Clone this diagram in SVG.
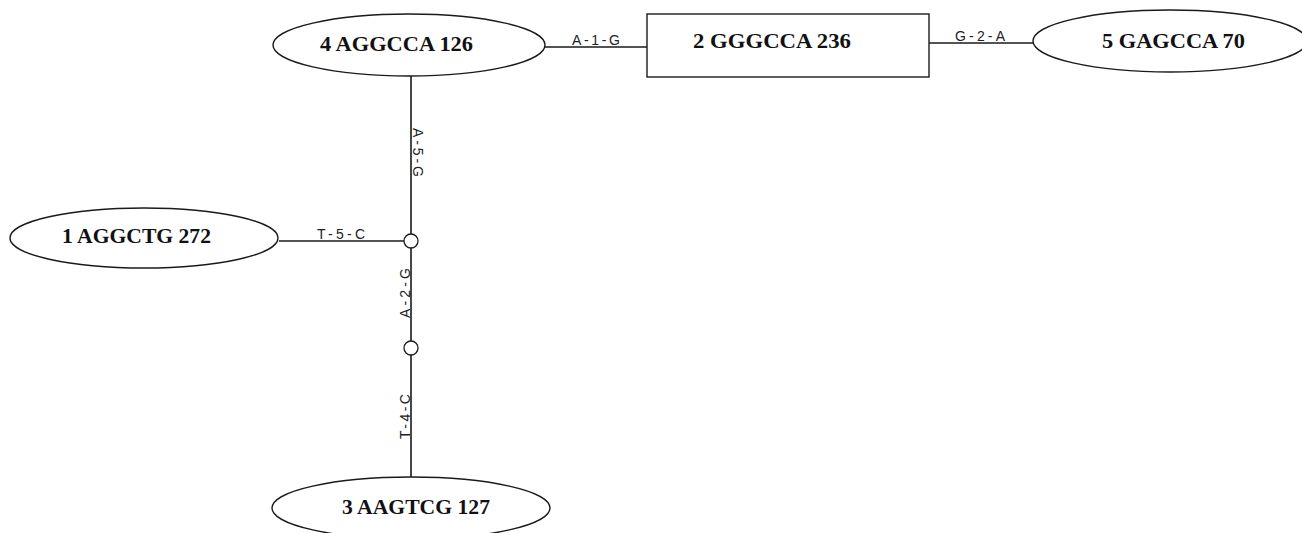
<svg xmlns="http://www.w3.org/2000/svg" width="1302" height="533" viewBox="0 0 1302 533">
<style>
.shape{fill:#fff;stroke:#1a1a1a;stroke-width:1.4}
.node{font-family:"Liberation Serif","Times New Roman",serif;font-weight:bold;font-size:21.5px;fill:#111}
.edge{stroke:#1a1a1a;stroke-width:1.6;fill:none}
.lbl{font-family:"Liberation Sans",Arial,sans-serif;font-size:14px;fill:#222}
.junc{fill:#fff;stroke:#1a1a1a;stroke-width:1.3}
</style>
<rect width="1302" height="533" fill="#fff"/>
<g id="connectors">
<line class="edge" x1="545" y1="47" x2="647" y2="47"/>
<line class="edge" x1="929" y1="43" x2="1033" y2="43"/>
<line class="edge" x1="279" y1="241" x2="404" y2="241"/>
<line class="edge" x1="411" y1="76" x2="411" y2="234"/>
<line class="edge" x1="411" y1="248" x2="411" y2="341"/>
<line class="edge" x1="411" y1="355" x2="411" y2="478"/>
<text class="lbl" x="572" y="45" textLength="48" lengthAdjust="spacing">A-1-G</text>
<text class="lbl" x="955" y="41" textLength="50" lengthAdjust="spacing">G-2-A</text>
<text class="lbl" x="317" y="239" textLength="48" lengthAdjust="spacing">T-5-C</text>
<text class="lbl" transform="translate(413,128) rotate(90)" textLength="49" lengthAdjust="spacing">A-5-G</text>
<text class="lbl" transform="translate(410,318) rotate(-90)" textLength="50" lengthAdjust="spacing">A-2-G</text>
<text class="lbl" transform="translate(410,439) rotate(-90)" textLength="45" lengthAdjust="spacing">T-4-C</text>
</g>
<g id="junction1"><circle class="junc" cx="411" cy="241" r="7"/></g>
<g id="junction2"><circle class="junc" cx="411" cy="348" r="7"/></g>
<g id="node4">
<ellipse class="shape" cx="409" cy="45" rx="136" ry="31"/>
<text class="node" x="320" y="51" textLength="153" lengthAdjust="spacingAndGlyphs">4 AGGCCA 126</text>
</g>
<g id="node2">
<rect class="shape" x="647" y="14" width="282" height="63"/>
<text class="node" x="693" y="48" textLength="158" lengthAdjust="spacingAndGlyphs">2 GGGCCA 236</text>
</g>
<g id="node5">
<ellipse class="shape" cx="1170" cy="41" rx="137" ry="31"/>
<text class="node" x="1102" y="48" textLength="143" lengthAdjust="spacingAndGlyphs">5 GAGCCA 70</text>
</g>
<g id="node1">
<ellipse class="shape" cx="144" cy="238" rx="134" ry="30"/>
<text class="node" x="62" y="243" textLength="149" lengthAdjust="spacingAndGlyphs">1 AGGCTG 272</text>
</g>
<g id="node3">
<ellipse class="shape" cx="411" cy="508" rx="139" ry="31"/>
<text class="node" x="342" y="514" textLength="148" lengthAdjust="spacingAndGlyphs">3 AAGTCG 127</text>
</g>
</svg>
